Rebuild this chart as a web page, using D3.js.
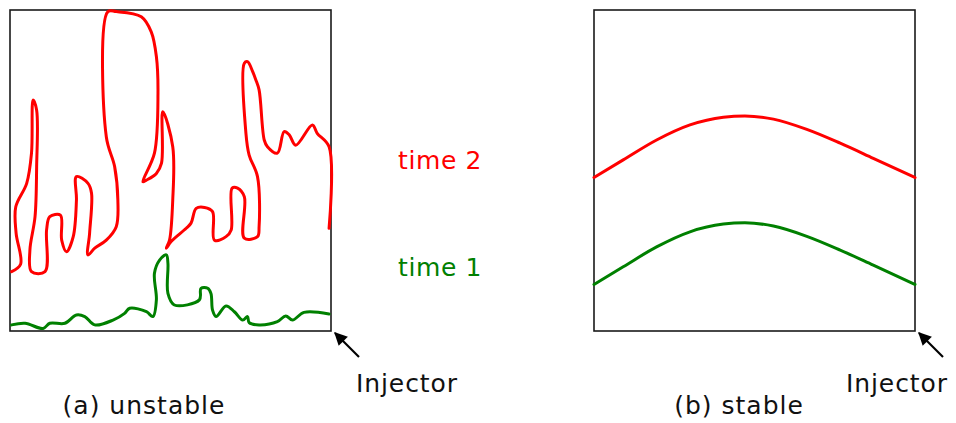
<!DOCTYPE html>
<html>
<head>
<meta charset="utf-8">
<script src="https://cdn.jsdelivr.net/npm/d3@7"></script>
<style>
  body { margin: 0; background: #fff; }
  text { font-family: "DejaVu Sans", Verdana, sans-serif; }
</style>
</head>
<body>
<div id="chart"></div>
<script>
// position along the chamber (0-100) vs. flame front height (0-100)

// (a) unstable, time 2 (red)
var unstable_t2 = [
  [0.5,18.5],[3.3,20.8],[1.9,30.5],[1.8,38.7],[5.2,46.0],[6.7,55.4],[7.2,72.0],[8.3,68.8],
  [8.3,51.2],[7.8,35.6],[6.2,25.2],[6.7,18.5],[10.9,18.5],[11.4,31.5],[12.4,35.6],[15.7,36.1],
  [16.1,28.3],[17.6,24.7],[19.7,29.4],[20.7,40.8],[20.7,48.1],[24.3,46.0],[25.4,42.9],[24.8,30.5],
  [24.3,23.7],[26.4,25.8],[30.0,28.3],[33.1,32.5],[33.6,40.8],[32.6,51.2],[30.0,60.5],[30.5,99.5],
  [33.1,99.5],[40.9,97.9],[44.0,93.2],[45.6,85.5],[46.1,74.0],[45.0,55.4],[41.4,46.5],[42.5,47.0],
  [45.6,49.1],[47.2,52.3],[47.6,68.3],[50.7,57.4],[50.7,40.8],[49.7,28.3],[48.7,25.8],[50.2,27.9],
  [54.9,32.0],[56.4,33.6],[58.0,38.2],[60.6,38.5],[63.1,37.2],[63.7,28.3],[67.3,29.4],[68.9,31.5],
  [69.2,44.5],[70.9,44.5],[73.0,41.8],[73.0,28.9],[77.1,29.4],[77.6,32.5],[77.1,48.1],[74.5,54.8],
  [73.5,61.6],[73.0,83.4],[74.0,83.9],[75.6,80.8],[76.6,78.2],[77.6,75.1],[79.2,59.5],[80.2,57.4],
  [83.3,55.4],[85.4,62.1],[87.0,61.1],[89.0,57.9],[94.2,64.2],[95.7,61.6],[99.4,57.4],[99.4,32.0]
];

// (a) unstable, time 1 (green)
var unstable_t1 = [
  [0.5,1.9],[4.7,2.4],[10.3,0.8],[12.4,2.4],[17.1,2.4],[20.7,5.0],[23.3,4.5],[26.4,1.9],
  [32.1,3.4],[35.7,5.5],[37.3,7.1],[42.5,6.0],[44.5,4.5],[45.6,9.7],[45.0,18.0],[46.6,22.1],
  [48.7,23.7],[49.2,21.1],[49.2,11.7],[51.2,8.1],[59.0,9.7],[59.5,13.3],[61.6,13.3],[62.6,11.7],
  [63.1,6.5],[64.2,4.5],[67.3,7.8],[69.9,6.0],[72.5,3.4],[74.0,4.5],[74.5,2.6],[77.6,1.9],
  [83.3,2.9],[85.9,4.7],[88.0,3.4],[91.6,5.8],[99.4,5.3]
];

// (b) stable
var stable_t2 = [
  [0,47.8],[9.1,53.3],[19.5,59.5],[29.9,64.2],[40.3,66.6],[47,67.0],
  [55.9,66.0],[66.3,62.8],[76.7,58.5],[87,53.8],[100,47.8]
];
var stable_t1 = [
  [0,14.5],[9.1,20.0],[19.5,26.2],[29.9,30.9],[40.3,33.3],[47,33.7],
  [55.9,32.7],[66.3,29.5],[76.7,25.2],[87,20.5],[100,14.5]
];

var panel_labels = ["(a) unstable", "(b) stable"];
var series_labels = ["time 2", "time 1"];

var RED = "#ff0000", GREEN = "#008000";

var svg = d3.select("#chart").append("svg")
    .attr("width", 956)
    .attr("height", 423);

var defs = svg.append("defs");
defs.append("marker")
    .attr("id", "head")
    .attr("viewBox", "0 0 10 10")
    .attr("refX", 9).attr("refY", 5)
    .attr("markerWidth", 15).attr("markerHeight", 13)
    .attr("markerUnits", "userSpaceOnUse")
    .attr("orient", "auto")
  .append("path")
    .attr("d", "M0,0 L10,5 L0,10 z")
    .attr("fill", "#000");

var panels = [
  {left: 10, series: [[unstable_t2, RED], [unstable_t1, GREEN]], label: panel_labels[0],
   labelX: 144, injX: 356, curve: d3.curveCatmullRom.alpha(0.5)},
  {left: 594, series: [[stable_t2, RED], [stable_t1, GREEN]], label: panel_labels[1],
   labelX: 739, injX: 846, curve: d3.curveMonotoneX}
];

panels.forEach(function(p) {
  var x = d3.scaleLinear().domain([0, 100]).range([p.left, p.left + 321]);
  var y = d3.scaleLinear().domain([0, 100]).range([331, 10]);

  var g = svg.append("g");

  g.append("rect")
    .attr("x", x(0)).attr("y", y(100))
    .attr("width", x(100) - x(0))
    .attr("height", y(0) - y(100))
    .attr("fill", "none")
    .attr("stroke", "#1a1a1a")
    .attr("stroke-width", 1.6);

  p.series.forEach(function(s) {
    g.append("path")
      .datum(s[0])
      .attr("fill", "none")
      .attr("stroke", s[1])
      .attr("stroke-width", 3)
      .attr("stroke-linejoin", "round")
      .attr("stroke-linecap", "round")
      .attr("d", d3.line()
        .x(function(d) { return x(d[0]); })
        .y(function(d) { return y(d[1]); })
        .curve(p.curve));
  });

  // injector arrow pointing at the bottom-right corner
  g.append("line")
    .attr("x1", x(100) + 28).attr("y1", 357)
    .attr("x2", x(100) + 4).attr("y2", 333)
    .attr("stroke", "#000")
    .attr("stroke-width", 2.2)
    .attr("marker-end", "url(#head)");

  g.append("text")
    .attr("x", p.injX)
    .attr("y", 392)
    .style("font-size", "25px")
    .style("letter-spacing", "0.9px")
    .attr("fill", "#111")
    .text("Injector");

  g.append("text")
    .attr("x", p.labelX)
    .attr("y", 414)
    .attr("text-anchor", "middle")
    .style("font-size", "25px")
    .style("letter-spacing", "1px")
    .attr("fill", "#111")
    .text(p.label);
});

svg.append("text")
  .attr("x", 398).attr("y", 169)
  .style("font-size", "25px")
  .style("letter-spacing", "0.6px")
  .attr("fill", RED)
  .text(series_labels[0]);

svg.append("text")
  .attr("x", 398).attr("y", 276)
  .style("font-size", "25px")
  .style("letter-spacing", "0.6px")
  .attr("fill", GREEN)
  .text(series_labels[1]);
</script>
</body>
</html>
